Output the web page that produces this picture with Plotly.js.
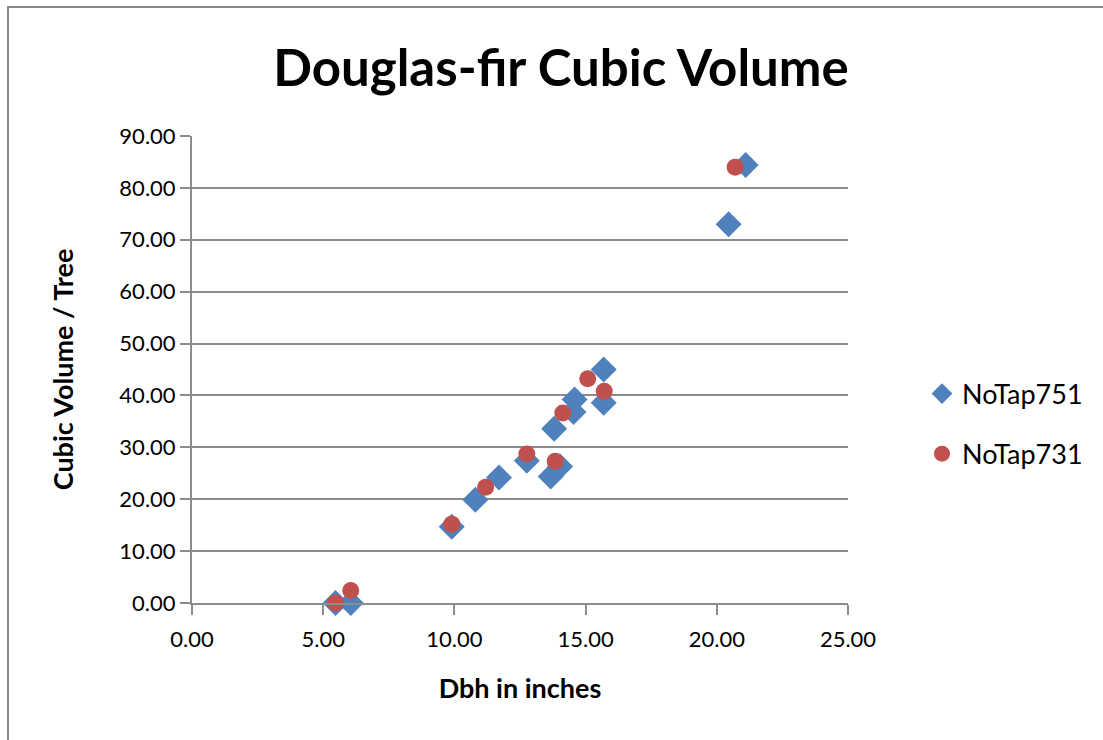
<!DOCTYPE html>
<html>
<head>
<meta charset="utf-8">
<script src="https://cdn.plot.ly/plotly-3.0.1.min.js"></script>
<style>
  html, body { margin: 0; padding: 0; background: #fff; }
  #wrap { position: relative; width: 1103px; height: 740px; }
  #chart { position: absolute; left: 0; top: 0; width: 1103px; height: 740px; }
  #frame { position: absolute; left: 7px; top: 6px; width: 1110px; height: 760px;
           border-left: 2px solid #888; border-top: 2px solid #888; pointer-events: none; }
</style>
</head>
<body>
<div id="wrap">
  <div id="chart"></div>
  <div id="frame"></div>
</div>
<script>
// NoTap751 (blue diamonds)
const dbh751 = [5.47, 6.05, 9.90, 10.80, 11.70, 12.76, 13.67, 14.03, 13.80, 14.54, 14.58, 15.69, 15.69, 20.45, 21.10];
const vol751 = [0.0, 0.0, 14.7, 19.9, 24.2, 27.4, 24.4, 26.3, 33.6, 36.8, 39.2, 45.0, 38.6, 73.0, 84.4];
// NoTap731 (red circles)
const dbh731 = [5.47, 6.05, 9.90, 11.19, 12.76, 13.84, 14.13, 15.08, 15.71, 20.70];
const vol731 = [0.0, 2.4, 15.2, 22.3, 28.7, 27.3, 36.6, 43.2, 40.8, 84.0];

const seriesNames = ['NoTap751', 'NoTap731'];
const chartTitle = 'Douglas-fir Cubic Volume';
const xTitle = 'Dbh in inches';
const yTitle = 'Cubic Volume / Tree';

const FONT = 'Lato, "Open Sans", sans-serif';

const traces = [
  {
    type: 'scatter', mode: 'markers', name: seriesNames[0], legendgroup: 'a',
    x: dbh751, y: vol751,
    marker: { symbol: 'diamond', size: 20, color: '#4F81BD', line: { width: 0 } },
    cliponaxis: false
  },
  {
    type: 'scatter', mode: 'markers', name: seriesNames[1], legendgroup: 'b',
    x: dbh731, y: vol731,
    marker: { symbol: 'circle', size: 17, color: '#C0504D', line: { width: 0 } },
    cliponaxis: false
  }
];

const layout = {
  width: 1103, height: 740,
  paper_bgcolor: '#ffffff', plot_bgcolor: '#ffffff',
  margin: { l: 192, r: 255, t: 136, b: 137 },
  font: { family: FONT, color: '#000', size: 22 },
  title: {
    text: '<b>' + chartTitle + '</b>',
    font: { family: FONT, size: 51, color: '#000' },
    x: 561 / 1103, xref: 'container', xanchor: 'center',
    y: 1 - 68 / 740, yref: 'container', yanchor: 'middle'
  },
  xaxis: {
    range: [0, 25], dtick: 5, tick0: 0, tickformat: '.2f',
    showgrid: false, zeroline: false,
    showline: true, linecolor: '#8c8c8c', linewidth: 2,
    ticks: 'outside', ticklen: 10, tickwidth: 2, tickcolor: '#8c8c8c',
    ticklabelstandoff: 6,
    tickfont: { family: FONT, size: 22, color: '#000' },
    title: { text: '<b>' + xTitle + '</b>', font: { family: FONT, size: 27, color: '#000' }, standoff: 28 },
    automargin: false
  },
  yaxis: {
    range: [0, 90], dtick: 10, tick0: 0, tickformat: '.2f',
    showgrid: true, gridcolor: '#8c8c8c', gridwidth: 2,
    zeroline: false,
    showline: true, linecolor: '#8c8c8c', linewidth: 2,
    ticks: 'outside', ticklen: 10, tickwidth: 2, tickcolor: '#8c8c8c',
    tickfont: { family: FONT, size: 22, color: '#000' },
    title: { text: '<b>' + yTitle + '</b>', font: { family: FONT, size: 27, color: '#000' }, standoff: 38 },
    automargin: false
  },
  showlegend: true,
  legend: {
    x: (922 - 192) / 656, xanchor: 'left', y: (603 - 424) / 467, yanchor: 'middle',
    font: { family: FONT, size: 27, color: '#000' },
    traceorder: 'grouped', tracegroupgap: 22,
    bgcolor: 'rgba(0,0,0,0)', itemwidth: 30
  }
};

Plotly.newPlot('chart', traces, layout, { displayModeBar: false, staticPlot: true });
</script>
</body>
</html>
